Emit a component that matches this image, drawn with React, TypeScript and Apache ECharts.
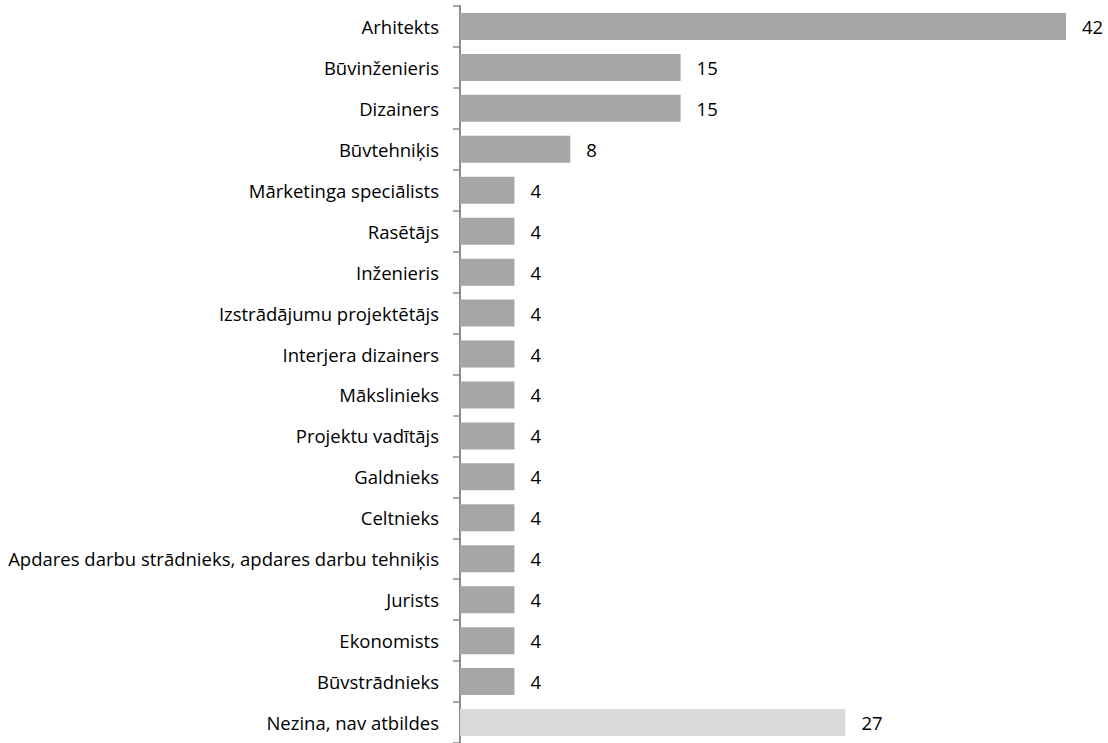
import React, { useEffect, useRef } from "react";
import * as echarts from "echarts";

const categories = [
  "Arhitekts",
  "Būvinženieris",
  "Dizainers",
  "Būvtehniķis",
  "Mārketinga speciālists",
  "Rasētājs",
  "Inženieris",
  "Izstrādājumu projektētājs",
  "Interjera dizainers",
  "Mākslinieks",
  "Projektu vadītājs",
  "Galdnieks",
  "Celtnieks",
  "Apdares darbu strādnieks, apdares darbu tehniķis",
  "Jurists",
  "Ekonomists",
  "Būvstrādnieks",
  "Nezina, nav atbildes",
];

const values = [42.3, 15.4, 15.4, 7.7, 3.8, 3.8, 3.8, 3.8, 3.8, 3.8, 3.8, 3.8, 3.8, 3.8, 3.8, 3.8, 3.8, 26.9];

const barColor = "#a6a6a6";
const lastColor = "#d9d9d9";
const font = "'Open Sans', 'Noto Sans', sans-serif";

export default function App() {
  const ref = useRef<HTMLDivElement>(null);
  useEffect(() => {
    document.body.style.margin = "0";
    const chart = echarts.init(ref.current!, null, { renderer: "svg" });
    chart.setOption({
      animation: false,
      grid: { left: 460, right: 42, top: 6, bottom: -1, containLabel: false },
      xAxis: {
        type: "value",
        min: 0,
        max: 42.3,
        show: false,
      },
      yAxis: {
        type: "category",
        inverse: true,
        data: categories,
        axisLine: { show: true, lineStyle: { color: "#8c8c8c", width: 2 } },
        axisTick: { show: true, length: 7, lineStyle: { color: "#8c8c8c", width: 1.5 } },
        axisLabel: {
          margin: 21,
          color: "#000",
          fontFamily: font,
          fontSize: 18.5,
        },
      },
      series: [
        {
          type: "bar",
          data: values.map((v, i) => ({
            value: v,
            itemStyle: { color: i === values.length - 1 ? lastColor : barColor },
          })),
          barCategoryGap: "34%",
          label: {
            show: true,
            position: "right",
            distance: 16,
            color: "#000",
            fontFamily: font,
            fontSize: 18.5,
            formatter: (p: any) => String(Math.round(p.value)),
          },
        },
      ],
    });
    return () => chart.dispose();
  }, []);
  return <div ref={ref} style={{ width: 1108, height: 743 }} />;
}
